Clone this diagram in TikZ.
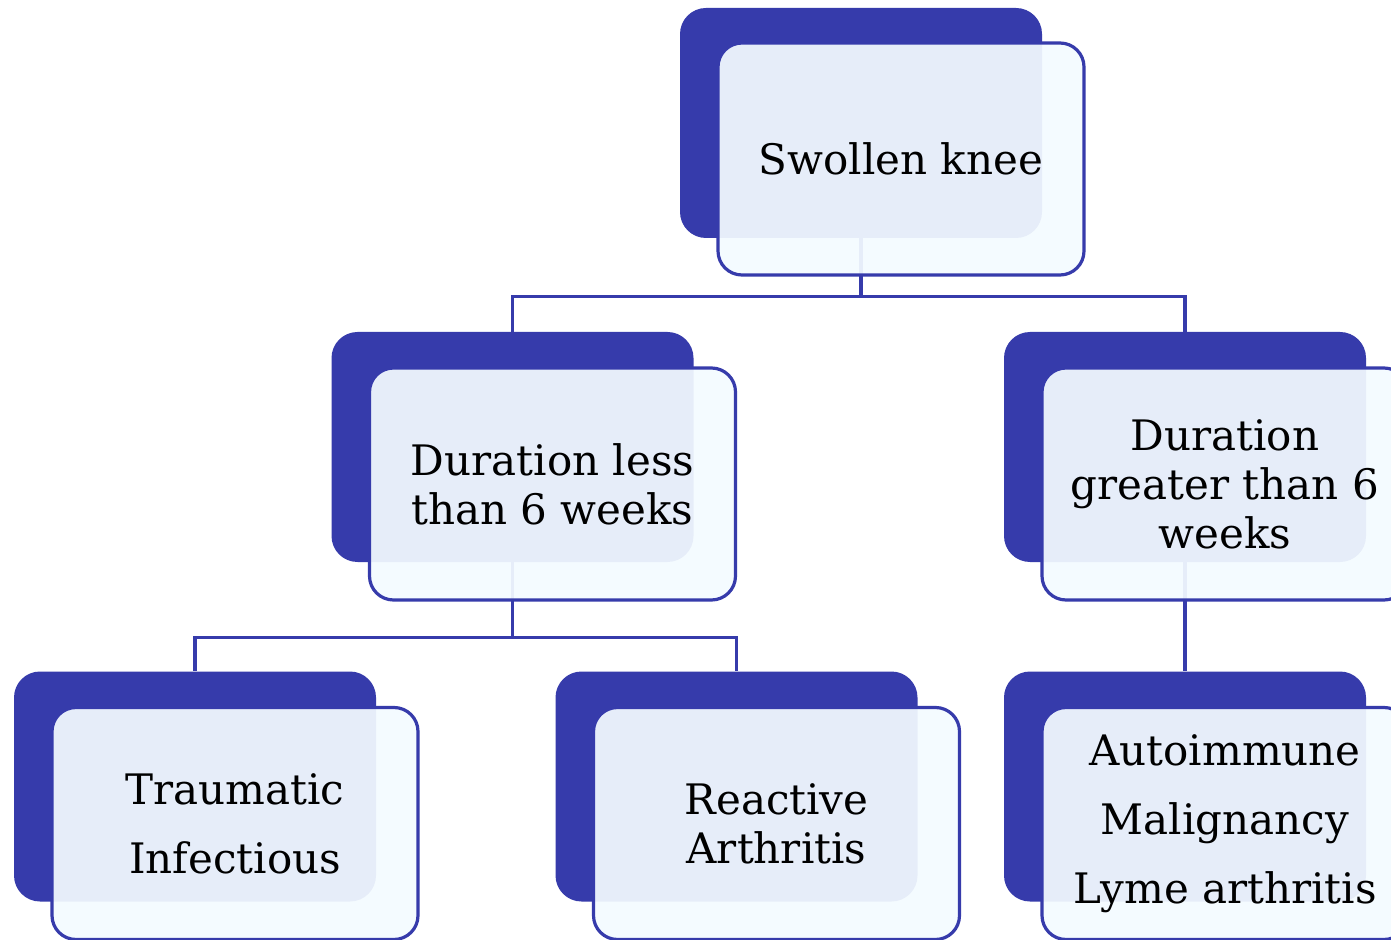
\documentclass[tikz,border=0pt]{standalone}
\usepackage{fontspec}
\setmainfont{DejaVu Serif}

\definecolor{plateblue}{RGB}{54,59,171}
\definecolor{cardface}{RGB}{244,251,255}

\tikzset{
  plate/.style={fill=plateblue, rounded corners=13pt, inner sep=0pt,
    minimum width=181pt, minimum height=115pt},
  card/.style={draw=plateblue, line width=1.6pt, fill=cardface,
    fill opacity=0.93, text opacity=1, rounded corners=12pt, inner sep=0pt,
    minimum width=183pt, minimum height=116pt, align=center,
    font=\fontsize{21pt}{24.5pt}\selectfont},
  link/.style={draw=plateblue, line width=1.6pt},
}

\begin{document}
\begin{tikzpicture}[x=0.5pt,y=-0.5pt]
  \fill[white] (0,0) rectangle (1391,940);
  \useasboundingbox (0,0) rectangle (1391,940);

  % Dark plates behind the cards
  \foreach \name/\px/\py in {knee/861/123, less/512.5/447, more/1185/447,
      trauma/195/786.5, reactive/736.5/786.5, auto/1185/786.5}
    \node[plate] (\name-back) at (\px,\py) {};

  % Tree links
  \draw[link] (knee-back.south) -- ++(0,58) coordinate (knee-fork);
  \draw[link] (knee-fork) -| (less-back.north);
  \draw[link] (knee-fork) -| (more-back.north);
  \draw[link] (less-back.south) -- ++(0,75) coordinate (less-fork);
  \draw[link] (less-fork) -| (trauma-back.north);
  \draw[link] (less-fork) -| (reactive-back.north);
  \draw[link] (more-back.south) -- (auto-back.north);

  % Light cards in front
  \node[card] (knee) at ([shift={(40,36)}]knee-back.center) {Swollen knee};
  \node[card] (less) at ([shift={(40,37)}]less-back.center)
    {Duration less\\than 6 weeks};
  \node[card] (more) at ([shift={(40,37)}]more-back.center)
    {Duration\\greater than 6\\weeks};
  \node[card] (trauma) at ([shift={(40,37)}]trauma-back.center)
    {Traumatic\\[10pt]Infectious};
  \node[card] (reactive) at ([shift={(40,37)}]reactive-back.center)
    {Reactive\\Arthritis};
  \node[card] (auto) at ([shift={(40,37)}]auto-back.center)
    {Autoimmune\\[10pt]Malignancy\\[10pt]Lyme arthritis};
\end{tikzpicture}
\end{document}
